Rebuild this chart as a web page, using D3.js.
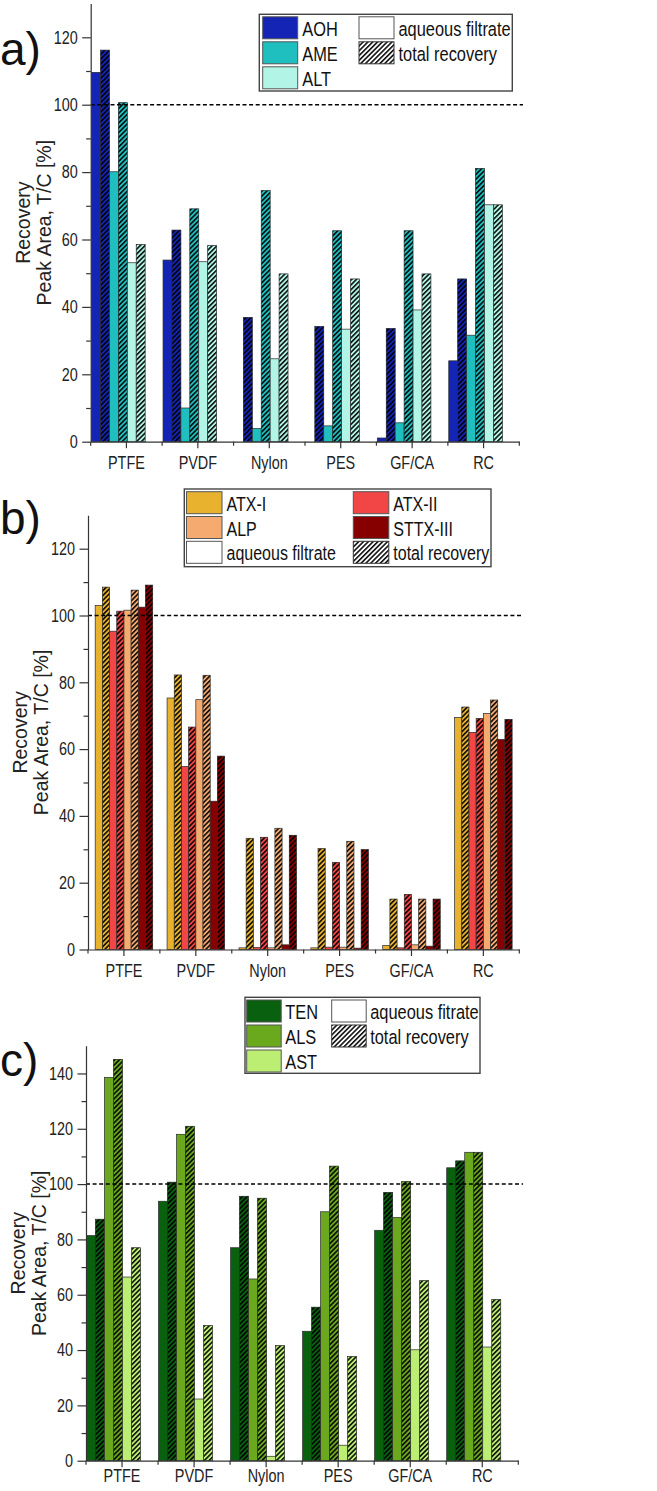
<!DOCTYPE html>
<html><head><meta charset="utf-8">
<script src="https://cdn.jsdelivr.net/npm/d3@7"></script>
<style>
body{margin:0;background:#fff;}
svg{display:block;background:#fff;}
.narrow{font-family:"Liberation Sans Narrow","Arial Narrow","Liberation Sans",Arial,sans-serif;}
</style></head><body>
<script>
// ---------------- DATA ----------------
const categories = ["PTFE", "PVDF", "Nylon", "PES", "GF/CA", "RC"];

// panel a
const seriesNamesA = ["AOH", "AME", "ALT"];
const aohFiltrate = [109.6, 53.9, 0, 0, 1.1, 24.0];
const aohTotal    = [116.2, 62.8, 36.9, 34.2, 33.6, 48.3];
const ameFiltrate = [80.1, 10.0, 3.9, 4.7, 5.6, 31.6];
const ameTotal    = [100.6, 69.1, 74.5, 62.6, 62.6, 81.1];
const altFiltrate = [53.1, 53.4, 24.6, 33.4, 39.1, 70.3];
const altTotal    = [58.5, 58.2, 49.8, 48.3, 49.8, 70.3];

// panel b
const seriesNamesB = ["ATX-I", "ATX-II", "ALP", "STTX-III"];
const atx1Filtrate = [103.0, 75.3, 0.5, 0.5, 1.2, 69.5];
const atx1Total    = [108.5, 82.2, 33.3, 30.2, 15.1, 72.6];
const atx2Filtrate = [95.3, 54.8, 0.6, 0.7, 0.5, 65.0];
const atx2Total    = [101.3, 66.6, 33.6, 26.1, 16.5, 69.2];
const alpFiltrate  = [101.6, 74.8, 0.5, 0.7, 1.4, 70.7];
const alpTotal     = [107.6, 82.1, 36.3, 32.4, 15.1, 74.7];
const sttxFiltrate = [102.5, 44.4, 1.4, 0.4, 1.0, 62.9];
const sttxTotal    = [109.1, 57.9, 34.2, 29.9, 15.1, 68.9];

// panel c
const seriesNamesC = ["TEN", "ALS", "AST"];
const tenFiltrate = [81.4, 93.8, 77.0, 46.8, 83.3, 105.9];
const tenTotal    = [87.3, 100.7, 95.6, 55.5, 97.0, 108.4];
const alsFiltrate = [138.6, 118.0, 65.7, 90.0, 87.9, 111.5];
const alsTotal    = [145.1, 120.9, 94.9, 106.5, 100.9, 111.5];
const astFiltrate = [66.4, 22.3, 1.6, 5.6, 40.1, 41.1];
const astTotal    = [77.0, 48.9, 41.6, 37.7, 65.1, 58.3];

const yTicksAB = [0, 20, 40, 60, 80, 100, 120];
const yTicksC  = [0, 20, 40, 60, 80, 100, 120, 140];
const refLine = 100;
const yTitle = ["Recovery", "Peak Area, T/C [%]"];
const legendFiltrateAB = "aqueous filtrate";
const legendFiltrateC = "aqueous fitrate";
const legendTotal = "total recovery";
const panelLetters = ["a)", "b)", "c)"];

// ---------------- STYLE ----------------
const colorsA = ["#1424b4", "#1fbfc0", "#b2f5e6"];
const colorsB = ["#e8b22e", "#f24545", "#f5aa70", "#860000"];
const colorsC = ["#09610f", "#6aa81e", "#bcee74"];

const W = 657, H = 1491;
const svg = d3.select("body").append("svg").attr("width", W).attr("height", H);
const defs = svg.append("defs");
const pat = defs.append("pattern").attr("id", "hatch")
  .attr("patternUnits", "userSpaceOnUse").attr("width", 3.4).attr("height", 3.4)
  .attr("patternTransform", "rotate(45)");
pat.append("line").attr("x1", 0.8).attr("y1", 0).attr("x2", 0.8).attr("y2", 3.4)
  .attr("stroke", "#000").attr("stroke-width", 1.5);

function buildSeries(names, colors, filt, tot) {
  return names.map((n, i) => ({ name: n, color: colors[i], filtrate: filt[i], total: tot[i] }));
}
const seriesA = buildSeries(seriesNamesA, colorsA, [aohFiltrate, ameFiltrate, altFiltrate], [aohTotal, ameTotal, altTotal]);
const seriesB = buildSeries(seriesNamesB, colorsB, [atx1Filtrate, atx2Filtrate, alpFiltrate, sttxFiltrate], [atx1Total, atx2Total, alpTotal, sttxTotal]);
const seriesC = buildSeries(seriesNamesC, colorsC, [tenFiltrate, alsFiltrate, astFiltrate], [tenTotal, alsTotal, astTotal]);

const TICK_FS = "18px";

function drawPanel(cfg, series, yTicks) {
  const g = svg.append("g");
  const x = d3.scaleBand().domain(categories).range([cfg.axisX, cfg.xEnd]).padding(0);
  const y = d3.scaleLinear().domain([0, cfg.yMax]).range([cfg.y0, cfg.yTop]);
  const slot = x.bandwidth() / cfg.slots;

  // bars
  const bars = [];
  series.forEach((s, si) => {
    categories.forEach((c, ci) => {
      bars.push({ cat: c, idx: si * 2, v: s.filtrate[ci], color: s.color, hatch: false });
      bars.push({ cat: c, idx: si * 2 + 1, v: s.total[ci], color: s.color, hatch: true });
    });
  });
  const bg = g.append("g");
  bars.forEach(b => {
    const bx = x(b.cat) + (cfg.slotOffset + b.idx) * slot;
    const by = y(b.v), bh = y(0) - y(b.v);
    if (bh <= 0) return;
    bg.append("rect").attr("x", bx).attr("y", by).attr("width", slot).attr("height", bh)
      .attr("fill", b.color);
    if (b.hatch) {
      bg.append("rect").attr("x", bx).attr("y", by).attr("width", slot).attr("height", bh)
        .attr("fill", "url(#hatch)");
    }
    bg.append("rect").attr("x", bx).attr("y", by).attr("width", slot).attr("height", bh)
      .attr("fill", "none").attr("stroke", "#2a2a2a").attr("stroke-width", 0.7);
  });

  // reference dashed line
  g.append("line").attr("x1", cfg.axisX).attr("x2", cfg.dashEnd)
    .attr("y1", y(refLine)).attr("y2", y(refLine))
    .attr("stroke", "#000").attr("stroke-width", 1.5).attr("stroke-dasharray", "4,2.6");

  // y axis
  const minor = d3.range(10, cfg.yMax, 20);
  const yMinor = g.append("g").attr("transform", `translate(${cfg.axisX},0)`)
    .call(d3.axisLeft(y).tickValues(minor).tickSize(4.5).tickFormat("").tickSizeOuter(0));
  yMinor.select(".domain").remove();
  const yAx = g.append("g").attr("transform", `translate(${cfg.axisX},0)`)
    .call(d3.axisLeft(y).tickValues(yTicks).tickSize(8.5).tickPadding(4.5).tickSizeOuter(0));
  yAx.selectAll(".tick text").attr("class", "narrow").style("font-size", TICK_FS).attr("fill", "#222");
  g.selectAll(".domain, .tick line").attr("stroke", "#333").attr("stroke-width", 1.2);

  // x axis
  const xAx = g.append("g").attr("transform", `translate(0,${cfg.y0})`)
    .call(d3.axisBottom(x).tickSize(6.5).tickPadding(cfg.xPad).tickSizeOuter(0));
  xAx.selectAll(".tick text").attr("class", "narrow").style("font-size", TICK_FS).attr("fill", "#222");
  xAx.selectAll(".domain, .tick line").attr("stroke", "#333").attr("stroke-width", 1.2);
  const bounds = categories.map(c => x(c)).concat([cfg.xEnd]);
  g.append("g").selectAll("line").data(bounds).join("line")
    .attr("x1", d => d).attr("x2", d => d).attr("y1", cfg.y0).attr("y2", cfg.y0 + 4)
    .attr("stroke", "#333").attr("stroke-width", 1.2);

  // y title
  const yc = (cfg.y0 + cfg.yTop) / 2;
  yTitle.forEach((t, i) => {
    g.append("text").attr("transform", `translate(${cfg.axisX - 61 + i * 21},${yc}) rotate(-90)`)
      .attr("text-anchor", "middle").style("font-family", "'Liberation Sans', Arial, sans-serif")
      .style("font-size", "19.5px").attr("fill", "#222").text(t);
  });

  // panel letter
  g.append("text").attr("x", 0).attr("y", cfg.letterY)
    .style("font-family", "'Liberation Sans', Arial, sans-serif").style("font-size", "46px")
    .attr("fill", "#111").text(cfg.letter);
}

function drawLegend(L, items) {
  const g = svg.append("g");
  g.append("rect").attr("x", L.x).attr("y", L.y).attr("width", L.w).attr("height", L.h)
    .attr("fill", "#fff").attr("stroke", "#444").attr("stroke-width", 1.4);
  items.forEach(it => {
    const sx = L.colX[it.col], sy = L.rowY + it.row * L.pitch;
    g.append("rect").attr("x", sx).attr("y", sy).attr("width", L.sw).attr("height", L.sh)
      .attr("fill", it.color);
    if (it.hatch) g.append("rect").attr("x", sx).attr("y", sy).attr("width", L.sw).attr("height", L.sh)
      .attr("fill", "url(#hatch)");
    g.append("rect").attr("x", sx).attr("y", sy).attr("width", L.sw).attr("height", L.sh)
      .attr("fill", "none").attr("stroke", it.hatch ? "#333" : "#555").attr("stroke-width", 1);
    g.append("text").attr("class", "narrow").attr("x", sx + L.sw + L.gap).attr("y", sy + L.sh - 3)
      .style("font-size", L.fs + "px").attr("fill", "#111").text(it.label);
  });
}

// ---------------- PANELS ----------------
drawPanel({ axisX: 90.7, xEnd: 519.3, dashEnd: 523, y0: 441.7, yTop: 3.6, yMax: 130,
  slots: 8, slotOffset: 0.1, xPad: 8, letter: panelLetters[0], letterY: 65 }, seriesA, yTicksAB);
drawPanel({ axisX: 88, xEnd: 519.3, dashEnd: 523, y0: 949.5, yTop: 515.3, yMax: 130,
  slots: 10, slotOffset: 1, xPad: 8.5, letter: panelLetters[1], letterY: 534 }, seriesB, yTicksAB);
drawPanel({ axisX: 86, xEnd: 518.3, dashEnd: 523, y0: 1460.7, yTop: 1045.8, yMax: 150,
  slots: 8, slotOffset: 0.05, xPad: 2, letter: panelLetters[2], letterY: 1076 }, seriesC, yTicksC);

// legends
drawLegend({ x: 259.3, y: 14.3, w: 253, h: 76.7, colX: [262.7, 359], rowY: 16.8, pitch: 25, sw: 35, sh: 22, gap: 4.5, fs: 20.5 },
  seriesA.map((s, i) => ({ col: 0, row: i, color: s.color, label: s.name }))
    .concat([{ col: 1, row: 0, color: "#fff", label: legendFiltrateAB },
             { col: 1, row: 1, color: "#fff", hatch: true, label: legendTotal }]));
drawLegend({ x: 184.3, y: 489, w: 306.7, h: 77.7, colX: [186.5, 353.3], rowY: 491.7, pitch: 24.8, sw: 35.5, sh: 22, gap: 4.5, fs: 20 },
  [{ col: 0, row: 0, color: seriesB[0].color, label: seriesB[0].name },
   { col: 1, row: 0, color: seriesB[1].color, label: seriesB[1].name },
   { col: 0, row: 1, color: seriesB[2].color, label: seriesB[2].name },
   { col: 1, row: 1, color: seriesB[3].color, label: seriesB[3].name },
   { col: 0, row: 2, color: "#fff", label: legendFiltrateAB },
   { col: 1, row: 2, color: "#fff", hatch: true, label: legendTotal }]);
drawLegend({ x: 245, y: 997.3, w: 235, h: 76, colX: [246.7, 331.7], rowY: 1000, pitch: 25, sw: 34.5, sh: 22, gap: 4, fs: 20.5 },
  seriesC.map((s, i) => ({ col: 0, row: i, color: s.color, label: s.name }))
    .concat([{ col: 1, row: 0, color: "#fff", label: legendFiltrateC },
             { col: 1, row: 1, color: "#fff", hatch: true, label: legendTotal }]));

// condense if no narrow face is installed
(function () {
  const t1 = svg.append("text").attr("class", "narrow").style("font-size", "20px").text("aqueous filtrate");
  const t2 = svg.append("text").style("font-family", "'Liberation Sans', Arial").style("font-size", "20px").text("aqueous filtrate");
  const r = t1.node().getComputedTextLength() / t2.node().getComputedTextLength();
  t1.remove(); t2.remove();
  if (r > 0.95) {
    svg.selectAll("text.narrow").each(function () {
      const w = this.getComputedTextLength();
      d3.select(this).attr("textLength", w * 0.8).attr("lengthAdjust", "spacingAndGlyphs");
    });
  }
})();
</script>
</body></html>
